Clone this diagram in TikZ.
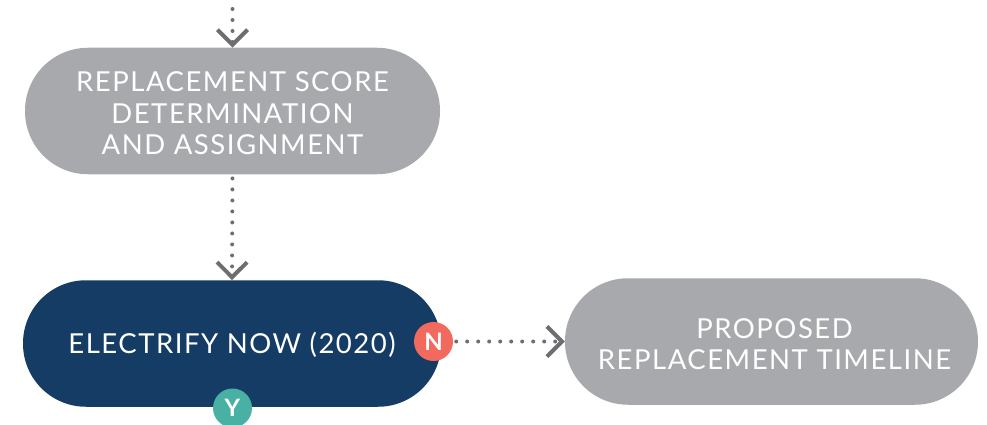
\documentclass[tikz,border=0pt]{standalone}
\usepackage{fontspec}
\setmainfont{Lato}
\newfontfamily\pillfont[LetterSpace=5.5]{Lato}
\newfontfamily\badgefont{Lato}
\usetikzlibrary{arrows.meta}
\definecolor{pillgray}{HTML}{A7A9AC}
\definecolor{navy}{HTML}{143C64}
\definecolor{nred}{HTML}{F26A5E}
\definecolor{yteal}{HTML}{48B1A4}
\definecolor{arrowgray}{HTML}{6D6E71}
\tikzset{
  pill/.style={draw=none, fill=pillgray, rectangle, rounded corners=63pt,
    minimum height=126.5pt, inner sep=0pt},
  pilltext/.style={text=white, align=center, inner sep=0pt,
    font=\pillfont\fontsize{27.5}{31.5}\selectfont},
  badge/.style={circle, minimum size=39pt, inner sep=0pt, text=white,
    font=\badgefont\bfseries\fontsize{24}{24}\selectfont},
  dotflow/.style={arrowgray, line width=4pt, line cap=round,
    dash pattern=on 0pt off 11pt,
    -{Straight Barb[length=15pt, width=30pt, line width=4pt]}},
}
\begin{document}
\begin{tikzpicture}[x=1pt, y=-1pt]
\useasboundingbox (0,0) rectangle (987,425);
\node[pill, minimum width=415pt] (score) at (232.5,111) {};
\node[pilltext] (scoretext) at ([yshift=-2.5pt]score.center) {REPLACEMENT SCORE\\DETERMINATION\\AND ASSIGNMENT};
\node[pill, minimum width=418pt, fill=navy] (now) at (232,343.5) {};
\node[pilltext] (nowtext) at ([yshift=-1.5pt]now.center) {ELECTRIFY NOW (2020)};
\node[pill, minimum width=413pt] (timeline) at (771.5,341.5) {};
\node[pilltext] (timelinetext) at ([xshift=3pt, yshift=-2.5pt]timeline.center) {PROPOSED\\REPLACEMENT TIMELINE};
\coordinate (start) at (232.5,9);
\draw[dotflow] (start) -- (score.north);
\draw[dotflow, shorten <=4pt] (score.south) -- (now.north);
\node[badge, fill=nred] (n) at (433.5,341.5) {N};
\node[badge, fill=yteal] (y) at (232.5,408) {Y};
\draw[dotflow, shorten <=3pt] (n.east) -- (timeline.west);
\end{tikzpicture}
\end{document}
